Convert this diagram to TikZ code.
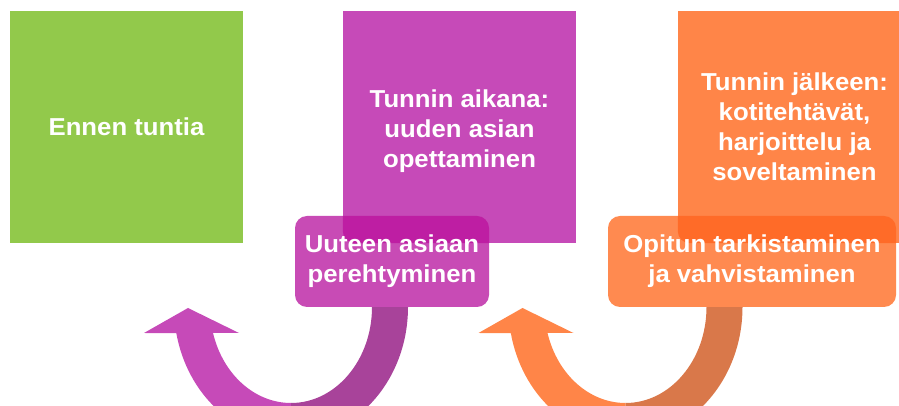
\documentclass[tikz,border=0pt]{standalone}
\usepackage{fontspec}
\setmainfont{Liberation Sans}[FakeStretch=1.05]
\usetikzlibrary{positioning,calc}

\definecolor{lgreen}{HTML}{92C94B}
\definecolor{lmag}{HTML}{C64AB8}
\definecolor{lmagbox}{HTML}{C84BB5}
\definecolor{lmagover}{HTML}{BE1EA3}
\definecolor{lmagdark}{HTML}{A8439A}
\definecolor{lorange}{HTML}{FF8548}
\definecolor{lorangebox}{HTML}{FF8A50}
\definecolor{lorangeover}{HTML}{FF6B28}
\definecolor{lorangedark}{HTML}{D9784A}

\begin{document}
\begin{tikzpicture}[x=1pt, y=1pt,
    square/.style={minimum width=233pt, minimum height=232pt, inner sep=0pt,
      text=white, align=center, font=\bfseries\fontsize{24.5}{30}\selectfont},
    labelbox/.style={rounded corners=12pt, minimum height=91pt, inner sep=0pt,
      text=white, align=center, font=\bfseries\fontsize{24.5}{30}\selectfont}]
  \useasboundingbox (0,0) rectangle (899,406);
  \clip (0,0) rectangle (899,406);

  % the three phases
  \node [square, fill=lgreen]  (before) at (126.5, 279) {Ennen tuntia};
  \node [square, fill=lmag]    (during) at (459.5, 279) {};
  \node [text=white, align=center, font=\bfseries\fontsize{24.5}{30}\selectfont]
    (duringtext) at (459.5, 275) {Tunnin aikana:\\uuden asian\\opettaminen};
  \node [square, fill=lorange] (after)  at (794.5, 279) {Tunnin jälkeen:\\kotitehtävät,\\harjoittelu ja\\soveltaminen};

  % magenta return arrow
  \fill [lmag] ($(291,99)+(191.4:117 and 132)$) arc [start angle=191.4, end angle=270, x radius=117, y radius=132]
    -- ($(291,99)+(270:81 and 96)$) arc [start angle=270, end angle=195.7, x radius=81, y radius=96]
    -- (239,73) -- (188,98) -- (144,73) -- cycle;
  \fill [lmagdark] (408,120) -- (408,99) arc [start angle=0, end angle=-90, x radius=117, y radius=132]
    -- ($(291,99)+(270:81 and 96)$) arc [start angle=-90, end angle=0, x radius=81, y radius=96]
    -- (372,120) -- cycle;

  % orange return arrow
  \fill [lorange] ($(625.5,99)+(191.4:117 and 132)$) arc [start angle=191.4, end angle=270, x radius=117, y radius=132]
    -- ($(625.5,99)+(270:81 and 96)$) arc [start angle=270, end angle=195.7, x radius=81, y radius=96]
    -- (573.5,73) -- (522.5,98) -- (478.5,73) -- cycle;
  \fill [lorangedark] (742.5,120) -- (742.5,99) arc [start angle=0, end angle=-90, x radius=117, y radius=132]
    -- ($(625.5,99)+(270:81 and 96)$) arc [start angle=-90, end angle=0, x radius=81, y radius=96]
    -- (706.5,120) -- cycle;

  % labels on the arrows
  \node [labelbox, fill=lmagbox, minimum width=194pt,
    path picture={\fill [lmagover] (during.south west) rectangle (during.north east);}]
    (learn) at (392, 144.5) {Uuteen asiaan\\perehtyminen};
  \node [labelbox, fill=lorangebox, minimum width=288pt,
    path picture={\fill [lorangeover] (after.south west) rectangle (after.north east);}]
    (check) at (752, 144.5) {Opitun tarkistaminen\\ja vahvistaminen};
\end{tikzpicture}
\end{document}
